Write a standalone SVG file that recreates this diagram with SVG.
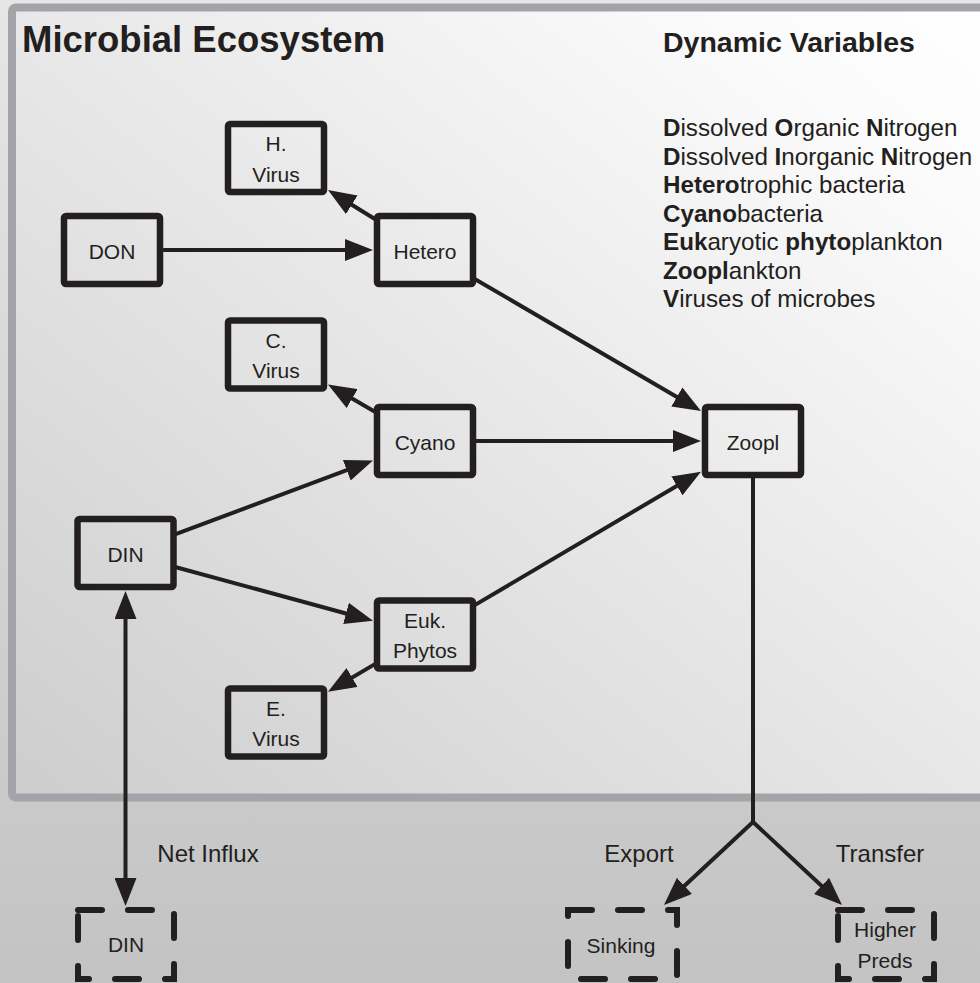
<svg xmlns="http://www.w3.org/2000/svg" width="980" height="983" viewBox="0 0 980 983">
<defs>
<linearGradient id="bg" x1="0" y1="0" x2="0" y2="1">
<stop offset="0" stop-color="#e6e6e6"/>
<stop offset="1" stop-color="#c3c3c3"/>
</linearGradient>
<linearGradient id="panel" x1="1" y1="0" x2="0" y2="1">
<stop offset="0" stop-color="#ffffff"/>
<stop offset="0.15" stop-color="#fbfbfb"/>
<stop offset="1" stop-color="#cdcdcd"/>
</linearGradient>
<marker id="arr" markerUnits="userSpaceOnUse" markerWidth="28" markerHeight="22" refX="20" refY="11" orient="auto-start-reverse" viewBox="0 0 28 22">
<path d="M0,0 L28,11 L0,22 Z" fill="#231f20"/>
</marker>
</defs>
<style>
.t{font-family:"Liberation Sans",Arial,sans-serif;fill:#231f20}
.lbl{font-size:21px;text-anchor:middle}
.el{font-size:24px;text-anchor:middle}
.var{font-size:24.2px}
.b{font-weight:bold}
.box{fill:none;stroke:#231f20;stroke-width:6.5}
.dbox{fill:none;stroke:#231f20;stroke-width:6;stroke-dasharray:24 26;stroke-linecap:round}
.c{fill:none;stroke:#231f20;stroke-width:4;stroke-linecap:round}
.a{marker-end:url(#arr)}
</style>
<rect x="0" y="0" width="980" height="983" fill="url(#bg)"/>
<rect x="12" y="7.5" width="1000" height="790" rx="4" fill="url(#panel)" stroke="#a3a4a8" stroke-width="8"/>
<text class="t b" x="22" y="52" font-size="36.5">Microbial Ecosystem</text>
<text class="t b" x="663" y="52" font-size="28.5">Dynamic Variables</text>
<g id="legend" class="t var">
<text x="663" y="136"><tspan class="b">D</tspan>issolved <tspan class="b">O</tspan>rganic <tspan class="b">N</tspan>itrogen</text>
<text x="663" y="164.5"><tspan class="b">D</tspan>issolved <tspan class="b">I</tspan>norganic <tspan class="b">N</tspan>itrogen</text>
<text x="663" y="193"><tspan class="b">Hetero</tspan>trophic bacteria</text>
<text x="663" y="221.5"><tspan class="b">Cyano</tspan>bacteria</text>
<text x="663" y="250"><tspan class="b">Euk</tspan>aryotic <tspan class="b">phyto</tspan>plankton</text>
<text x="663" y="278.5"><tspan class="b">Zoopl</tspan>ankton</text>
<text x="663" y="307"><tspan class="b">V</tspan>iruses of microbes</text>
</g>
<g id="connectors">
<path class="c a" d="M164,250 L365,250"/>
<path class="c a" d="M374,218.5 L334.8,194.2"/>
<path class="c a" d="M476,279.7 L694.1,407"/>
<path class="c a" d="M374,411.2 L334.9,388.5"/>
<path class="c a" d="M476,441 L693,441"/>
<path class="c a" d="M177,533.7 L365.5,463.2"/>
<path class="c a" d="M177,567.5 L365.3,618.7"/>
<path class="c a" d="M476,604.4 L694.1,475.7"/>
<path class="c a" d="M374,664.6 L334.9,687.7"/>
<path class="c a" d="M125.5,599 L125.5,898" marker-start="url(#arr)"/>
<path class="c" d="M753,478 L753,822"/>
<path class="c a" d="M753,822 L669.8,899.5"/>
<path class="c a" d="M753,822 L836.2,899.5"/>
</g>
<g id="edge-labels" class="t el">
<text x="208" y="862">Net Influx</text>
<text x="639" y="862">Export</text>
<text x="880" y="862">Transfer</text>
</g>
<g id="n-hvirus"><rect class="box" x="228" y="124" width="96" height="68" rx="2"/><text class="t lbl" x="276" y="151">H.</text><text class="t lbl" x="276" y="182">Virus</text></g>
<g id="n-hetero"><rect class="box" x="377" y="216" width="96" height="68" rx="2"/><text class="t lbl" x="425" y="258.5">Hetero</text></g>
<g id="n-don"><rect class="box" x="64" y="216" width="96" height="68" rx="2"/><text class="t lbl" x="112" y="258.5">DON</text></g>
<g id="n-cvirus"><rect class="box" x="228" y="320.5" width="96" height="68" rx="2"/><text class="t lbl" x="276" y="347.5">C.</text><text class="t lbl" x="276" y="378">Virus</text></g>
<g id="n-cyano"><rect class="box" x="377" y="407" width="96" height="68" rx="2"/><text class="t lbl" x="425" y="449.5">Cyano</text></g>
<g id="n-zoopl"><rect class="box" x="705" y="407" width="96" height="68" rx="2"/><text class="t lbl" x="753" y="449.5">Zoopl</text></g>
<g id="n-din"><rect class="box" x="77.5" y="519" width="96" height="68" rx="2"/><text class="t lbl" x="125.5" y="561.5">DIN</text></g>
<g id="n-euk"><rect class="box" x="377" y="600.5" width="96" height="68" rx="2"/><text class="t lbl" x="425" y="628">Euk.</text><text class="t lbl" x="425" y="658">Phytos</text></g>
<g id="n-evirus"><rect class="box" x="228" y="688.5" width="96" height="68" rx="2"/><text class="t lbl" x="276" y="715.5">E.</text><text class="t lbl" x="276" y="746">Virus</text></g>
<g id="n-din-ext"><rect class="dbox" x="78" y="910" width="96" height="69"/><text class="t lbl" x="126" y="952">DIN</text></g>
<g id="n-sinking"><rect class="dbox" x="568" y="910" width="109" height="69"/><text class="t lbl" x="621" y="953">Sinking</text></g>
<g id="n-preds"><rect class="dbox" x="838" y="910" width="96" height="69"/><text class="t lbl" x="885" y="937">Higher</text><text class="t lbl" x="885" y="968">Preds</text></g>
</svg>
